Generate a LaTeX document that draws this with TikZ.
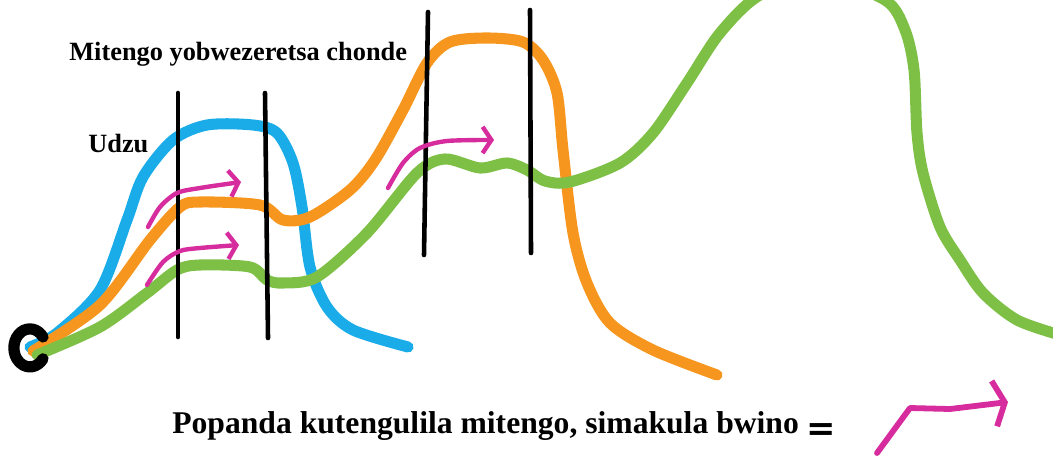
\documentclass[tikz,border=0pt]{standalone}
\usepackage{fontspec}
\setmainfont{Liberation Serif}
\newfontfamily\symbolfont{DejaVu Sans}
\usetikzlibrary{arrows.meta}

\definecolor{grassblue}{RGB}{26,172,232}
\definecolor{cropgreen}{RGB}{126,192,70}
\definecolor{treeorange}{RGB}{247,150,30}
\definecolor{flowpink}{RGB}{214,44,158}

\begin{document}
\begin{tikzpicture}[x=0.02cm, y=-0.02cm, line cap=round, line join=round,
  crop/.style={line width=6.3pt},
  hedge/.style={line width=2.6pt, black},
  flow/.style={line width=2.5pt, flowpink, -{Straight Barb[length=5pt, width=15pt]}},
  keyflow/.style={line width=3.3pt, flowpink, -{Straight Barb[length=6pt, width=26pt]}},
  label/.style={font=\bfseries\fontsize{15}{18}\selectfont, inner sep=0pt}]
\useasboundingbox (0,0) rectangle (1053,456);
\clip (0,0) rectangle (1053,456);
% curves
\draw [crop, grassblue] plot[smooth] coordinates {(30,347) (57,333) (100,290) (127,220) (143,177) (173,140) (207,125) (253,125) (277,133) (293,163) (302,207) (310,267) (327,307) (353,330) (408,347)};
\draw [crop, treeorange] plot[smooth] coordinates {(33,351) (100,305) (150,240) (180,207) (200,202) (260,205) (283,220) (310,217) (350,190) (375,160) (403,110) (427,63) (450,42) (487,38) (523,42) (543,60) (557,93) (563,150) (573,233) (587,283) (610,323) (653,350) (717,375)};
\draw [crop, cropgreen] plot[smooth] coordinates {(37,355) (100,327) (147,293) (177,270) (200,265) (250,267) (267,280) (283,283) (317,277) (367,233) (417,173) (445,159) (480,168) (507,163) (527,170) (545,181) (570,182) (620,163) (653,133) (687,83) (720,33) (760,-5) (820,-22) (885,0) (905,30) (914,70) (917,133) (923,173) (940,227) (960,260) (983,293) (1017,320) (1060,335)};
% hedgerows
\draw [hedge] (178,93) -- (178,337);
\draw [hedge] (265,93) -- (268,338);
\draw [hedge] (428,12) -- (424,255);
\draw [hedge] (530,10) -- (531,253);
% arrows
\draw [flow] plot[smooth] coordinates {(148,227) (160,207) (177,193) (200,188) (241,182)};
\draw [flow] plot[smooth] coordinates {(147,285) (163,262) (180,251) (200,248) (239,245)};
\draw [flow] plot[smooth] coordinates {(388,188) (403,163) (420,148) (447,141) (494,140)};
\draw [keyflow] (877,453) -- (910,408) -- (950,409) -- (1008,402);
% ring
\draw [line width=6.4pt] (43,337) arc[start angle=35, end angle=325, x radius=0.32cm, y radius=0.38cm];
% texts
\node [label, anchor=base west] (title) at (69,61) {Mitengo yobwezeretsa chonde};
\node [label, anchor=base west] (grass) at (88,152) {Udzu};
\node [label, font=\bfseries\fontsize{18}{22}\selectfont, anchor=base west] (note) at (172,433) {Popanda kutengulila mitengo, simakula bwino};
\node [label, font=\symbolfont\bfseries\fontsize{20}{22}\selectfont, anchor=base] (equals) at (821,440) {=};
\end{tikzpicture}
\end{document}
